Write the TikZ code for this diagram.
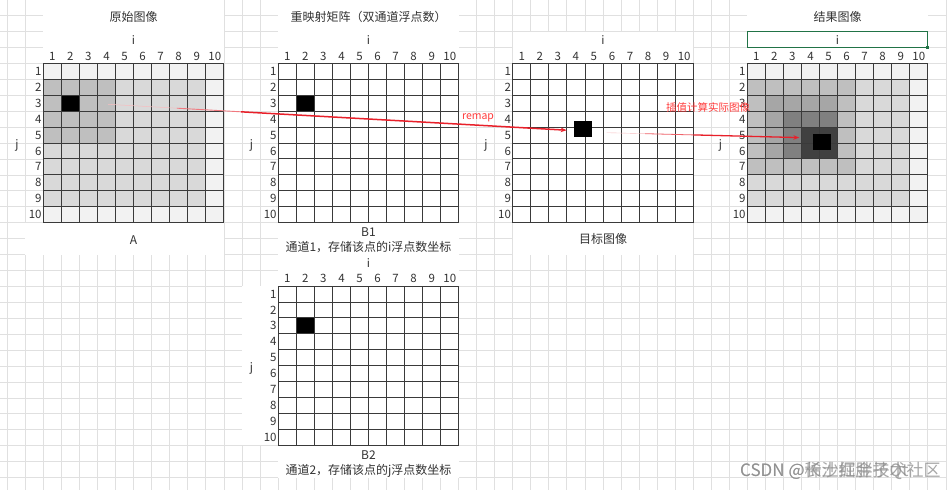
\documentclass[tikz,border=0pt]{standalone}
\usepackage{fontspec}
\newfontfamily\cjk{Noto Sans CJK SC}
\usetikzlibrary{arrows.meta,calc}
\definecolor{bg}{HTML}{E0E0E0}
\definecolor{tl}{HTML}{3A3A3A}
\definecolor{txt}{HTML}{333333}
\definecolor{ga}{HTML}{F2F2F2}
\definecolor{gb}{HTML}{D9D9D9}
\definecolor{gc}{HTML}{BFBFBF}
\definecolor{gd}{HTML}{A6A6A6}
\definecolor{ge}{HTML}{808080}
\definecolor{gf}{HTML}{404040}
\definecolor{xlred}{HTML}{E8202A}
\definecolor{lblred}{HTML}{FF3B3B}
\definecolor{xlgreen}{HTML}{217346}
\definecolor{wm}{HTML}{8A8A8A}
\tikzset{
  every node/.style={font=\cjk\fontsize{11.5}{13}\selectfont, text=txt, inner sep=0pt},
  bgline/.style={draw=bg, line width=0.6pt},
  tline/.style={draw=tl, line width=0.8pt},
  num/.style={},
  lbl/.style={font=\cjk\fontsize{12}{14}\selectfont},
  redtxt/.style={text=lblred, font=\cjk\fontsize{10.5}{12}\selectfont},
  wmtxt/.style={text=wm, opacity=0.75, anchor=west, font=\cjk\fontsize{17}{19}\selectfont},
  blk/.style={fill=black},
  whitebox/.style={fill=white},
  redarrow/.style={draw=xlred, line width=1.5pt, -{Stealth[length=6pt,width=4.5pt]}},
}
% fill columns c1..c2, rows r1..r2 of a table at left #1, top #2
\newcommand\fillcells[7]{%
  \fill[#7] ({#1+(#3-1)*18.05},{#2+(#4-1)*15.93}) rectangle ({#1+#5*18.05},{#2+#6*15.93});}
\newcommand\drawtable[3]{%
  \foreach \k in {0,...,10}{
    \draw[tline] ({#1+\k*18.05},#2) -- ({#1+\k*18.05},{#2+159.3});
    \draw[tline] (#1,{#2+\k*15.93}) -- ({#1+180.5},{#2+\k*15.93});
  }
  \foreach \k in {1,...,10}{
    \node[num] (#3c\k) at ({#1+(\k-0.5)*18.05},{#2-7.2}) {\k};
    \node[num,anchor=east] (#3r\k) at ({#1-1.5},{#2+(\k-0.5)*15.93}) {\k};
  }
}
\begin{document}
\begin{tikzpicture}[x=1pt,y=-1pt]
\useasboundingbox (0,0) rectangle (947,490);
\fill[white] (0,0) rectangle (947,490);
% spreadsheet background grid
\foreach \k in {-2,...,50} \draw[bgline] ({43.3+\k*18.05},0) -- ({43.3+\k*18.05},490);
\foreach \k in {-3,...,26} \draw[bgline] (0,{63.3+\k*15.93}) -- (947,{63.3+\k*15.93});
% merged (white) cells
\fill[whitebox] (43.3,0) rectangle (223.8,63.3);
\fill[whitebox] (25.25,222.7) rectangle (223.8,254.6);
\fill[whitebox] (278.3,0) rectangle (458.8,63.3);
\fill[whitebox] (278.3,222.7) rectangle (458.8,286);
\fill[whitebox] (242.2,286) rectangle (278.3,445.3);
\fill[whitebox] (278.3,445.3) rectangle (458.8,477.5);
\fill[whitebox] (512.7,31.5) rectangle (693.2,63.3);
\fill[whitebox] (512.7,222.7) rectangle (693.2,254.6);
\fill[whitebox] (747.3,0) rectangle (927.8,63.3);
% ---- table A fills
\fillcells{43.3}{63.3}{1}{1}{10}{10}{ga}
\fillcells{43.3}{63.3}{1}{2}{9}{9}{gb}
\fillcells{43.3}{63.3}{1}{2}{4}{5}{gc}
\fillcells{43.3}{63.3}{2}{3}{2}{3}{blk}
% ---- table B1, B2 fills
\fill[white] (278.3,63.3) rectangle (458.8,222.6);
\fill[white] (278.3,286) rectangle (458.8,445.3);
\fillcells{278.3}{63.3}{2}{3}{2}{3}{blk}
\fillcells{278.3}{286}{2}{3}{2}{3}{blk}
% ---- target
\fill[white] (512.7,63.3) rectangle (693.2,222.6);
% ---- result fills
\fillcells{747.3}{63.3}{1}{1}{10}{10}{ga}
\fillcells{747.3}{63.3}{1}{2}{9}{9}{gb}
\fillcells{747.3}{63.3}{1}{2}{6}{7}{gc}
\fillcells{747.3}{63.3}{2}{3}{5}{3}{gd}
\fillcells{747.3}{63.3}{2}{4}{2}{6}{gd}
\fillcells{747.3}{63.3}{3}{4}{5}{4}{ge}
\fillcells{747.3}{63.3}{3}{5}{3}{6}{ge}
\fillcells{747.3}{63.3}{4}{5}{5}{6}{gf}
% ---- tables
\drawtable{43.3}{63.3}{A}
\drawtable{278.3}{63.3}{B}
\drawtable{512.7}{63.3}{T}
\drawtable{747.3}{63.3}{R}
\drawtable{278.3}{286}{C}
% black squares off the cell grid
\fill[blk] (574.3,121) rectangle (592.3,136.7);
\fill[blk] (812.7,134) rectangle (830.7,150);
% selected cell (green)
\draw[xlgreen, line width=1pt] (747,31.7) rectangle (927.7,47.7);
\fill[xlgreen] (926.2,46.2) rectangle (929.2,49.2);
% titles and labels
\node[lbl] (tA) at (133.5,17) {原始图像};
\node[lbl] (tB) at (368.5,17) {重映射矩阵（双通道浮点数）};
\node[lbl] (tR) at (837.5,17) {结果图像};
\node[num] (iA) at (133.5,40) {i};
\node[num] (iB) at (368.5,40) {i};
\node[num] (iT) at (603,40) {i};
\node[num] (iR) at (837.5,40) {i};
\node[num] (iC) at (368.5,263) {i};
\node[num] (jA) at (17,145) {j};
\node[num] (jB) at (251.5,145) {j};
\node[num] (jT) at (486,145) {j};
\node[num] (jR) at (720.5,145) {j};
\node[num] (jC) at (251.5,368) {j};
\node[lbl] (lA) at (133.5,240) {A};
\node[lbl] (lB1) at (368.5,232) {B1};
\node[lbl] (lB1t) at (368.5,247.5) {通道1，存储该点的i浮点数坐标};
\node[lbl] (lT) at (603,239) {目标图像};
\node[lbl] (lB2) at (368.5,455) {B2};
\node[lbl] (lB2t) at (368.5,470.5) {通道2，存储该点的j浮点数坐标};
% connectors
\coordinate (s1) at (108,104.3);
\coordinate (e1) at (566.7,130.2);
\coordinate (s2) at (606.7,132.7);
\coordinate (e2) at (799.3,137.6);
\draw[xlred!30, line width=0.5pt] (s1) -- ($(s1)!0.15!(e1)$);
\draw[xlred!60, line width=0.9pt] ($(s1)!0.15!(e1)$) -- ($(s1)!0.29!(e1)$);
\draw[redarrow] ($(s1)!0.29!(e1)$) -- (e1);
\draw[xlred!30, line width=0.4pt] (s2) -- ($(s2)!0.2!(e2)$);
\draw[xlred!70, line width=0.8pt] ($(s2)!0.2!(e2)$) -- ($(s2)!0.45!(e2)$);
\draw[redarrow, line width=1.3pt] ($(s2)!0.45!(e2)$) -- (e2);
\node[redtxt] (remap) at (478,118) {remap};
\node[redtxt] (interp) at (708,107) {插值计算实际图像};
% watermark
\node[wmtxt] (wm1) at (740,471) {CSDN @稀土掘金技术社区};
\node[wmtxt] (wm2) at (740,471) {CSDN @长沙红胖子Qt};
\end{tikzpicture}
\end{document}
